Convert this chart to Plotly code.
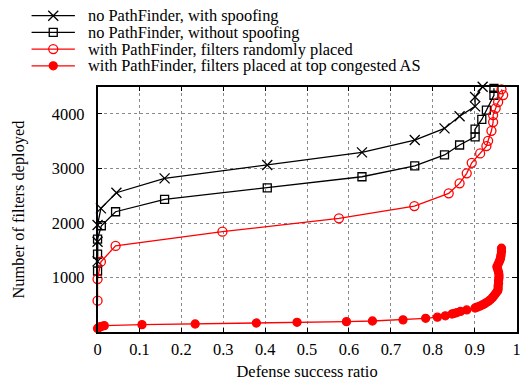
import plotly.graph_objects as go

W, H = 526, 381
FONT = "'Liberation Serif', 'Times New Roman', Times, serif"
FS = 16.4

# --- series data (defense success ratio, number of filters deployed) ---
spoof_x = [0.0, 0.0, 0.0, 0.008, 0.045, 0.160, 0.405, 0.631, 0.757, 0.828, 0.864, 0.901, 0.901, 0.919]
spoof_y = [1300, 1660, 1965, 2270, 2557, 2820, 3064, 3297, 3522, 3736, 3960, 4140, 4312, 4500]

nospoof_x = [0.0, 0.0, 0.0, 0.009, 0.043, 0.160, 0.405, 0.631, 0.757, 0.828, 0.864, 0.901,
             0.901, 0.917, 0.928, 0.946, 0.946]
nospoof_y = [1123, 1434, 1709, 1952, 2209, 2436, 2648, 2850, 3051, 3250, 3432, 3582,
             3722, 3900, 4070, 4343, 4470]

rand_x = [0.0, 0.0, 0.008, 0.043, 0.298, 0.576, 0.756, 0.838, 0.864, 0.881, 0.893, 0.913,
          0.928, 0.932, 0.940, 0.944, 0.944, 0.950, 0.956, 0.968, 0.964]
rand_y = [580, 975, 1293, 1583, 1843, 2088, 2313, 2546, 2729, 2912, 3106, 3278,
          3412, 3509, 3692, 3852, 3980, 4103, 4218, 4346, 4451]

top_x = [0.0, 0.003, 0.006, 0.010, 0.016, 0.106, 0.233, 0.379, 0.476, 0.594, 0.656, 0.729,
         0.783, 0.811, 0.830, 0.846, 0.852, 0.858, 0.866, 0.881, 0.901, 0.906, 0.912, 0.918,
         0.923, 0.928, 0.933, 0.938, 0.943, 0.947, 0.951, 0.955, 0.956, 0.956, 0.957, 0.957,
         0.958, 0.958, 0.957, 0.955, 0.953, 0.956, 0.959, 0.961, 0.962, 0.963, 0.964, 0.964]
top_y = [70, 88, 100, 110, 122, 140, 152, 170, 183, 195, 207, 228,
         256, 278, 302, 335, 348, 362, 382, 410, 445, 462, 480, 500,
         520, 545, 570, 600, 640, 680, 720, 760, 800, 850, 900, 950,
         1000, 1050, 1100, 1150, 1200, 1250, 1300, 1340, 1380, 1420, 1480, 1540]

x_ticks = [i / 10 for i in range(11)]
x_tick_text = ["0"] + [f"{t:.1f}" for t in x_ticks[1:-1]] + ["1"]
y_ticks = [1000, 2000, 3000, 4000]

series = [
    dict(name="no PathFinder, with spoofing", x=spoof_x, y=spoof_y, color="black",
         symbol="x-thin-open", size=10),
    dict(name="no PathFinder, without spoofing", x=nospoof_x, y=nospoof_y, color="black",
         symbol="square-open", size=8),
    dict(name="with PathFinder, filters randomly placed", x=rand_x, y=rand_y, color="#ff0000",
         symbol="circle-open", size=9),
    dict(name="with PathFinder, filters placed at top congested AS", x=top_x, y=top_y,
         color="#ff0000", symbol="circle", size=8),
]

# plot area in pixels
L, R, T, B = 95, 520.5, 86.7, 332.3

fig = go.Figure()
for s in series:
    fig.add_trace(go.Scatter(
        x=s["x"], y=s["y"], mode="lines+markers", name=s["name"],
        line=dict(color=s["color"], width=1.3),
        marker=dict(symbol=s["symbol"], size=s["size"], color=s["color"],
                    line=dict(color=s["color"], width=1.3)),
        cliponaxis=False, showlegend=False, xaxis="x", yaxis="y",
    ))

# key drawn above the plot on a pixel-space overlay axis
key_x0, key_x1, key_row0, key_dy = 28, 72, 15.7, 16.7
for i, s in enumerate(series):
    ky = key_row0 + i * key_dy
    fig.add_trace(go.Scatter(
        x=[key_x0, key_x1], y=[ky, ky], mode="lines",
        line=dict(color=s["color"], width=1.3), showlegend=False,
        xaxis="x2", yaxis="y2", hoverinfo="skip"))
    fig.add_trace(go.Scatter(
        x=[(key_x0 + key_x1) / 2], y=[ky], mode="markers",
        marker=dict(symbol=s["symbol"], size=s["size"], color=s["color"],
                    line=dict(color=s["color"], width=1.3)),
        showlegend=False, xaxis="x2", yaxis="y2", hoverinfo="skip"))
    fig.add_annotation(x=83 / W, y=1 - ky / H, xref="paper", yref="paper",
                       text=s["name"], showarrow=False, xanchor="left", yanchor="middle",
                       font=dict(family=FONT, size=FS, color="black"))

axis_common = dict(
    showline=True, linecolor="black", linewidth=1.5, mirror="allticks",
    ticks="inside", ticklen=5, tickwidth=1, tickcolor="black",
    showgrid=True, gridcolor="#8a8a8a", griddash="dot", gridwidth=1,
    zeroline=False, tickfont=dict(family=FONT, size=FS, color="black"),
)

fig.update_layout(
    width=W, height=H,
    margin=dict(l=0, r=0, t=0, b=0),
    paper_bgcolor="white", plot_bgcolor="rgba(0,0,0,0)",
    font=dict(family=FONT, size=FS, color="black"),
    showlegend=False,
    xaxis=dict(domain=[L / W, R / W], range=[0, 1], tickvals=x_ticks, ticktext=x_tick_text,
               anchor="y", ticklabelstandoff=1,
               title=dict(text="Defense success ratio", font=dict(family=FONT, size=FS, color="black"),
                          standoff=9),
               **axis_common),
    yaxis=dict(domain=[(H - B) / H, (H - T) / H], range=[0, 4500], tickvals=y_ticks,
               anchor="x", ticklabelstandoff=8,
               title=dict(text="Number of filters deployed", font=dict(family=FONT, size=FS, color="black"),
                          standoff=23),
               **axis_common),
    xaxis2=dict(domain=[0, 1], range=[0, W], visible=False, anchor="y2", fixedrange=True),
    yaxis2=dict(domain=[0, 1], range=[H, 0], visible=False, anchor="x2", fixedrange=True),
)

fig.write_html("out.html")
